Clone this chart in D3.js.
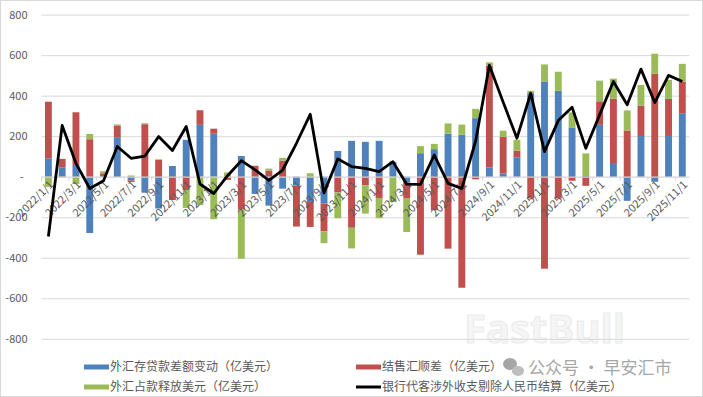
<!DOCTYPE html>
<html><head><meta charset="utf-8">
<script src="https://cdn.jsdelivr.net/npm/d3@7"></script>
<style>body{margin:0;background:#fff}svg{display:block}</style>
</head><body><svg id="c" width="703" height="397"></svg>
<script>
const categories = ["2022/1/1","2022/2/1","2022/3/1","2022/4/1","2022/5/1","2022/6/1","2022/7/1","2022/8/1","2022/9/1","2022/10/1","2022/11/1","2022/12/1",
"2023/1/1","2023/2/1","2023/3/1","2023/4/1","2023/5/1","2023/6/1","2023/7/1","2023/8/1","2023/9/1","2023/10/1","2023/11/1","2023/12/1",
"2024/1/1","2024/2/1","2024/3/1","2024/4/1","2024/5/1","2024/6/1","2024/7/1","2024/8/1","2024/9/1","2024/10/1","2024/11/1","2024/12/1",
"2025/1/1","2025/2/1","2025/3/1","2025/4/1","2025/5/1","2025/6/1","2025/7/1","2025/8/1","2025/9/1","2025/10/1","2025/11/1"];
// 外汇存贷款差额变动
const fxDeposit = [91,45,58,-278,3,195,-18,-79,-157,53,182,256,
212,0,102,-85,-143,-59,-44,-125,-133,127,177,172,
177,74,-28,116,136,212,207,289,46,16,96,412,
470,424,243,3,256,63,-119,201,-25,201,313];
// 结售汇顺差
const fxSettlement = [279,43,260,185,14,58,-8,259,83,-115,-66,72,
25,-16,-162,54,30,79,-202,-123,-137,-78,-252,-42,
-105,0,-80,-385,-165,-355,-548,-13,502,181,33,-107,
-454,-107,-20,-45,116,322,228,150,508,183,157];
// 外汇占款释放美元
const fxReserve = [-50,-4,-36,26,10,5,6,5,3,0,-88,-140,
-210,21,-243,0,10,14,0,17,-58,-127,-102,-140,
-100,-125,-165,35,26,51,50,46,16,30,53,12,
84,94,74,112,102,99,99,102,99,94,87];
// 银行代客涉外收支剔除人民币结算
const bankFlow = [-295,253,66,-58,-20,149,91,102,198,129,248,-36,
-83,5,79,34,-18,33,165,308,-80,88,50,41,
25,74,-37,-38,107,-33,-58,175,550,368,190,412,
124,277,343,140,305,470,355,531,366,500,470];
const yTicks = [-800,-600,-400,-200,0,200,400,600,800];
const seriesNames = ["外汇存贷款差额变动（亿美元）","结售汇顺差（亿美元）","外汇占款释放美元（亿美元）","银行代客涉外收支剔除人民币结算（亿美元）"];
const colors = ["#4f81bd","#c0504d","#9bbb59","#000000"];

const svg = d3.select("#c");
const font = "'Noto Sans CJK SC','Noto Sans',sans-serif";
const L = 41.5, R = 689.2, T = 14.6, B = 338.8;

svg.append("rect").attr("x",0.5).attr("y",0.5).attr("width",702).attr("height",396)
  .attr("fill","#fff").attr("stroke","#d9d9d9");

const x = d3.scaleBand().domain(categories).range([L,R]).paddingInner(0.5).paddingOuter(0.25);
const y = d3.scaleLinear().domain([-800,800]).range([B,T]);

// watermark FastBull (behind everything)
svg.append("text").attr("x",464).attr("y",343).text("FastBull")
  .style("font-family","'Open Sans',sans-serif").style("font-size","40px").style("font-weight","bold")
  .attr("fill","#f5f5f5").attr("stroke","#ebebeb").attr("stroke-width",1);

// y axis + grid
const ya = svg.append("g").attr("transform",`translate(${L},0)`)
  .call(d3.axisLeft(y).tickValues(yTicks).tickSize(-(R-L)).tickPadding(14)
    .tickFormat(d => d===0 ? "-" : d));
ya.select(".domain").remove();
ya.selectAll("line").attr("stroke","#d9d9d9");
ya.selectAll("text").attr("fill","#595959").style("font-family",font).style("font-size","11px");
ya.selectAll(".tick").filter(d=>d===0).select("text").attr("x",-18);

// stacked bars
const rows = categories.map((c,i)=>({cat:c, a:fxDeposit[i], b:fxSettlement[i], g:fxReserve[i]}));
const stacked = d3.stack().keys(["a","b","g"]).offset(d3.stackOffsetDiverging)(rows);
svg.append("g").selectAll("g").data(stacked).join("g")
  .attr("fill",(d,i)=>colors[i])
  .selectAll("rect").data(d=>d).join("rect")
  .attr("x",d=>x(d.data.cat)).attr("width",x.bandwidth())
  .attr("y",d=>y(Math.max(d[0],d[1]))).attr("height",d=>Math.abs(y(d[0])-y(d[1])));

// x axis at zero
const step = x.step();
const xa = svg.append("g").attr("transform",`translate(0,${y(0)})`)
  .call(d3.axisBottom(x).tickValues(categories.filter((d,i)=>i%2===0)).tickSize(0).tickPadding(0));
xa.select(".domain").attr("stroke","#d9d9d9");
xa.selectAll("text").attr("fill","#595959").style("font-family",font).style("font-size","11px")
  .attr("text-anchor","end").attr("transform","translate(3,6) rotate(-45)").attr("dy","0.35em").attr("y",0).attr("x",0);
const tickPos = d3.range(0, categories.length+1, 2);
svg.append("g").selectAll("line").data(tickPos).join("line")
  .attr("x1",k=>L+k*step).attr("x2",k=>L+k*step).attr("y1",y(0)).attr("y2",y(0)+4)
  .attr("stroke","#d9d9d9");

// line
const lineData = categories.map((c,i)=>({cat:c,v:bankFlow[i]}));
svg.append("path").datum(lineData)
  .attr("fill","none").attr("stroke","#000").attr("stroke-width",2.8).attr("stroke-linejoin","round")
  .attr("d", d3.line().x(d=>x(d.cat)+x.bandwidth()/2).y(d=>y(d.v)));

// legend
const leg = [
  {x:84, y:367, i:0},{x:356, y:367, i:1},{x:84, y:387, i:2},{x:356, y:387, i:3}
];
const lg = svg.append("g");
leg.forEach(o=>{
  if(o.i<3) lg.append("rect").attr("x",o.x).attr("y",o.y-2.5).attr("width",25).attr("height",5).attr("fill",colors[o.i]);
  else lg.append("line").attr("x1",o.x).attr("x2",o.x+25).attr("y1",o.y).attr("y2",o.y).attr("stroke","#000").attr("stroke-width",3);
  lg.append("text").attr("x",o.x+26).attr("y",o.y).attr("dy","0.35em").text(seriesNames[o.i])
    .attr("fill","#595959").style("font-family",font).style("font-size","12px");
});

// watermark 公众号
const wm = svg.append("g").attr("fill","#a6a6a6");
wm.append("ellipse").attr("cx",510).attr("cy",364).attr("rx",7).attr("ry",6);
wm.append("ellipse").attr("cx",518).attr("cy",371).attr("rx",6).attr("ry",5).attr("fill","#bdbdbd");
wm.append("text").attr("x",528).attr("y",368).attr("dy","0.35em").text("公众号 · 早安汇市")
  .style("font-family",font).style("font-size","17px");
</script></body></html>
